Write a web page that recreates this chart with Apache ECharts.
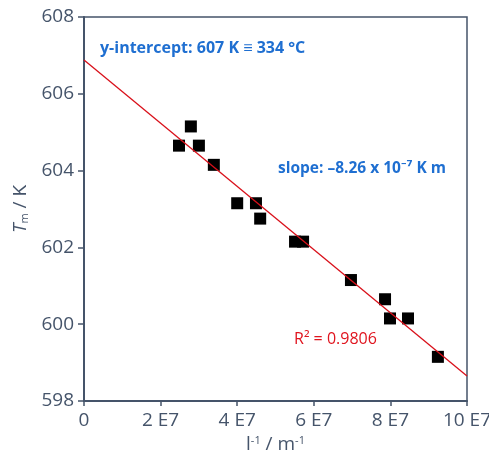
<!DOCTYPE html>
<html>
<head>
<meta charset="utf-8">
<script src="https://cdn.jsdelivr.net/npm/echarts@6/dist/echarts.min.js"></script>
<style>
  html, body { margin: 0; padding: 0; background: #fff; }
  #chart { width: 489px; height: 455px; }
</style>
</head>
<body>
<div id="chart"></div>
<script>
// data (x in m^-1, y in K)
const invLength = [2.48e7, 2.79e7, 3.0e7, 3.39e7, 4.0e7, 4.49e7, 4.6e7, 5.51e7, 5.72e7, 6.97e7, 7.86e7, 7.99e7, 8.46e7, 9.24e7]
const meltTemp = [604.65, 605.15, 604.65, 604.15, 603.15, 603.15, 602.75, 602.15, 602.15, 601.15, 600.65, 600.15, 600.15, 599.15]
const fitX = [0, 10e7]
const fitY = [606.88, 598.65]

const axisColor = '#45546a'
const fontFam = '"Open Sans", "Noto Sans", sans-serif'

var chartDom = document.getElementById('chart')
var myChart = echarts.init(chartDom)

var option = {
  animation: false,
  grid: {
    left: 84,
    right: 22,
    top: 17,
    bottom: 54,
    outerBoundsMode: 'none',
    containLabel: false,
    show: true,
    borderColor: axisColor,
    borderWidth: 1.5
  },
  xAxis: {
    type: 'value',
    min: 0,
    max: 10e7,
    interval: 2e7,
    name: '{a|l}{s|-1}{a| / m}{s|-1}',
    nameLocation: 'middle',
    nameGap: 31,
    nameTextStyle: {
      rich: {
        a: { fontSize: 19, color: axisColor, fontFamily: fontFam },
        s: { fontSize: 11, color: axisColor, fontFamily: fontFam, padding: [0, 0, 8, 0] }
      }
    },
    axisLine: { lineStyle: { color: axisColor, width: 2 } },
    axisTick: { show: true, length: 5, lineStyle: { color: axisColor, width: 1.5 } },
    splitLine: { show: false },
    axisLabel: {
      color: axisColor,
      fontSize: 19,
      fontFamily: fontFam,
      margin: 10,
      formatter: function (v) {
        return v === 0 ? '0' : (v / 1e7) + ' E7'
      }
    }
  },
  yAxis: {
    type: 'value',
    min: 598,
    max: 608,
    interval: 2,
    name: '{i|T}{s|m}{a| / K}',
    nameLocation: 'middle',
    nameGap: 50,
    nameRotate: 90,
    nameTextStyle: {
      rich: {
        i: { fontSize: 19, color: axisColor, fontStyle: 'italic', fontFamily: fontFam },
        a: { fontSize: 19, color: axisColor, fontFamily: fontFam },
        s: { fontSize: 11, color: axisColor, fontFamily: fontFam, padding: [8, 0, 0, 0] }
      }
    },
    axisLine: { show: true, lineStyle: { color: axisColor, width: 2 } },
    axisTick: { show: true, length: 6, lineStyle: { color: axisColor, width: 1.5 } },
    splitLine: { show: false },
    axisLabel: {
      color: axisColor,
      fontSize: 19,
      fontFamily: fontFam,
      margin: 10
    }
  },
  series: [
    {
      type: 'line',
      data: fitX.map((x, i) => [x, fitY[i]]),
      symbol: 'none',
      lineStyle: { color: '#d9101a', width: 1.3 },
      z: 3
    },
    {
      type: 'scatter',
      data: invLength.map((x, i) => [x, meltTemp[i]]),
      symbol: 'rect',
      symbolSize: 12,
      itemStyle: { color: '#000', opacity: 1 },
      z: 2
    }
  ],
  graphic: [
    {
      type: 'text',
      left: 100,
      top: 40,
      style: {
        text: 'y-intercept: 607 K ≡ 334 °C',
        fill: '#1f6fd1',
        font: 'bold 16px ' + fontFam
      }
    },
    {
      type: 'text',
      left: 278,
      top: 161,
      style: {
        text: 'slope: –8.26 x 10⁻⁷ K m',
        fill: '#1f6fd1',
        font: 'bold 15.5px ' + fontFam
      }
    },
    {
      type: 'text',
      left: 294,
      top: 331,
      style: {
        text: 'R² = 0.9806',
        fill: '#e0141e',
        font: '16px ' + fontFam
      }
    }
  ]
}

option && myChart.setOption(option)
</script>
</body>
</html>
